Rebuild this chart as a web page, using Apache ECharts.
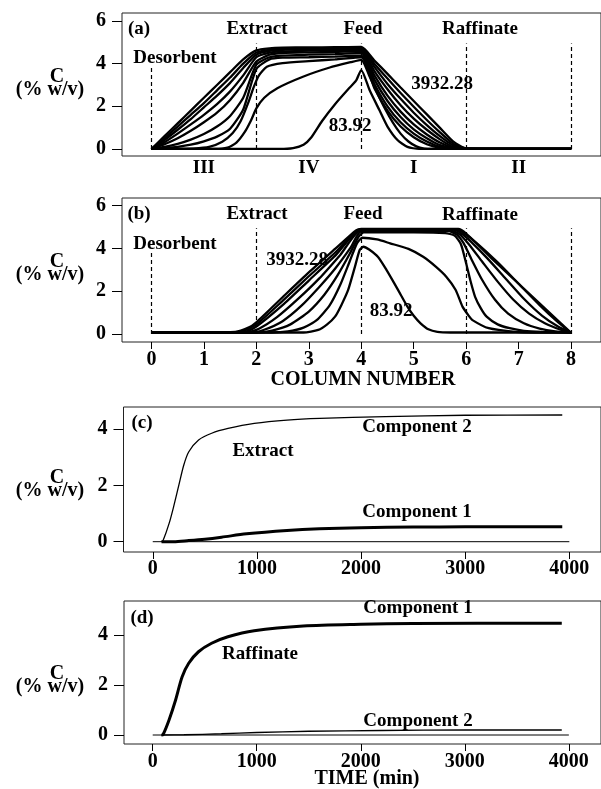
<!DOCTYPE html>
<html>
<head>
<meta charset="utf-8">
<script src="https://cdn.jsdelivr.net/npm/echarts@6/dist/echarts.min.js"></script>
<style>
  html, body { margin: 0; padding: 0; background: #fff; }
  #chart { width: 601px; height: 789px; }
</style>
</head>
<body>
<div id="chart"></div>
<script>
// ---- tick values ----
const columnTicks = [0, 1, 2, 3, 4, 5, 6, 7, 8];
const zoneCols = [1, 3, 5, 7];
const zoneNames = ['III', 'IV', 'I', 'II'];
const concTicksAB = [0, 2, 4, 6];
const concTicksCD = [0, 2, 4];
const timeTicks = [0, 1000, 2000, 3000, 4000];

// ports (dashed dividers): column and top of dashed line
const portCols = [0, 2, 4, 6, 8];
const portTops = [3.8, 4.95, 4.95, 4.95, 4.95];

// ---- (a) column profiles, [column, C] ----
const profA_t84 = [[0,0],[2.45,0],[2.7,0.04],[2.9,0.2],[3.05,0.55],[3.25,1.3],[3.5,2.1],[3.75,2.8],[3.9,3.2],[4,3.7],
  [4.16,2.75],[4.35,1.8],[4.5,1.05],[4.69,0.42],[4.88,0.1],[5.1,0],[8,0]];
const profA_2 = [[0,0],[1.2,0],[1.45,0.06],[1.62,0.3],[1.78,0.8],[1.9,1.35],[2,1.9],[2.15,2.4],[2.4,2.85],[2.9,3.4],[3.4,3.82],[3.8,4.07],[4,4.18],
  [4.15,3.45],[4.3,2.65],[4.45,1.9],[4.6,1.25],[4.75,0.72],[4.9,0.35],[5.05,0.12],[5.2,0.02],[5.35,0],[8,0]];
const profA_3 = [[0,0],[0.5,0],[0.8,0.02],[1.1,0.1],[1.35,0.34],[1.55,0.75],[1.7,1.3],[1.85,2.2],[1.95,2.9],[2.05,3.45],[2.2,3.85],[2.5,4.02],[3,4.12],[3.5,4.2],[4,4.3],
  [4.25,2.85],[4.5,1.8],[4.75,1.05],[5,0.55],[5.25,0.22],[5.5,0.05],[5.7,0],[8,0]];
// later profiles share one column grid
const fanCols = [0,0.25,0.5,0.75,1,1.25,1.5,1.75,2,2.25,2.5,3,3.5,4,4.25,4.5,4.75,5,5.25,5.5,5.75,6,8];
const profA_4 = [0,0.04,0.1,0.2,0.36,0.58,0.95,1.85,3.75,4.2,4.28,4.3,4.33,4.38,3.05,2.0,1.25,0.72,0.35,0.1,0,0,0];
const profA_5 = [0,0.1,0.24,0.44,0.7,1.05,1.55,2.4,3.95,4.3,4.38,4.42,4.45,4.5,3.25,2.25,1.5,0.92,0.5,0.18,0.03,0,0];
const profA_6 = [0,0.22,0.5,0.85,1.25,1.7,2.3,3.1,4.1,4.42,4.5,4.53,4.55,4.58,3.45,2.5,1.75,1.15,0.68,0.3,0.06,0,0];
const profA_7 = [0,0.32,0.72,1.15,1.6,2.1,2.7,3.45,4.3,4.52,4.58,4.61,4.64,4.66,3.65,2.8,2.05,1.42,0.9,0.45,0.1,0,0];
const profA_8 = [0,0.42,0.9,1.4,1.95,2.5,3.1,3.8,4.42,4.6,4.65,4.68,4.7,4.72,3.85,3.05,2.35,1.7,1.12,0.6,0.17,0,0];
const profA_9 = [0,0.5,1.05,1.6,2.15,2.75,3.35,4.0,4.52,4.65,4.7,4.72,4.73,4.75,4.0,3.3,2.62,1.98,1.36,0.78,0.25,0.02,0];
const profA_t3932 = [0,0.6,1.2,1.8,2.4,3.0,3.6,4.2,4.62,4.72,4.75,4.76,4.77,4.78,4.15,3.52,2.88,2.25,1.62,0.99,0.36,0.03,0];

// ---- (b) column profiles, [column, C] ----
const profB_t84 = [[0,0.07],[2.9,0.07],[3.18,0.19],[3.35,0.45],[3.5,0.81],[3.62,1.35],[3.75,2.06],[3.88,3.15],[3.97,3.93],[4.04,4.08],
  [4.15,3.95],[4.32,3.6],[4.48,3.0],[4.63,2.37],[4.76,1.8],[4.88,1.28],[5.0,0.85],[5.13,0.5],[5.28,0.22],[5.45,0.1],[5.7,0.07],[8,0.07]];
const profB_2 = [[0,0.07],[2.3,0.07],[2.6,0.12],[2.9,0.3],[3.15,0.65],[3.4,1.35],[3.6,2.3],[3.78,3.4],[3.92,4.25],[4.02,4.5],[4.3,4.42],[4.55,4.24],
  [4.9,3.98],[5.18,3.61],[5.42,3.15],[5.62,2.68],[5.8,2.06],[5.93,1.28],[6.05,0.85],[6.12,0.65],[6.43,0.27],[6.94,0.1],[7.3,0.07],[8,0.07]];
const profB_3 = [[0,0.07],[2.0,0.07],[2.3,0.16],[2.65,0.45],[3.0,1.05],[3.3,1.85],[3.55,2.75],[3.78,3.75],[3.95,4.55],[4.05,4.75],[5.0,4.75],[5.6,4.72],
  [5.78,4.6],[5.9,4.2],[6.0,3.3],[6.08,2.5],[6.17,1.74],[6.28,1.2],[6.39,0.81],[6.6,0.45],[6.83,0.27],[7.1,0.15],[7.45,0.1],[8,0.07]];
const profB_4 = [[0,0.07],[1.9,0.07],[2.15,0.2],[2.5,0.6],[2.85,1.3],[3.2,2.2],[3.5,3.05],[3.8,4.05],[4,4.8],[5.65,4.82],[5.82,4.65],[5.95,4.25],
  [6.1,3.5],[6.3,2.55],[6.55,1.6],[6.8,0.95],[7.1,0.5],[7.4,0.25],[7.7,0.12],[8,0.07]];
const profB_5 = [[0,0.07],[1.8,0.07],[2.05,0.25],[2.4,0.8],[2.8,1.65],[3.2,2.6],[3.6,3.7],[4,4.85],[5.7,4.85],[5.88,4.65],[6.05,4.2],
  [6.3,3.4],[6.6,2.45],[6.9,1.6],[7.2,0.95],[7.5,0.5],[7.8,0.2],[8,0.07]];
const profB_6 = [[0,0.07],[1.75,0.07],[2.0,0.35],[2.5,1.35],[3.0,2.5],[3.5,3.65],[4,4.87],[5.75,4.88],[5.92,4.68],[6.1,4.3],
  [6.4,3.55],[6.75,2.6],[7.1,1.65],[7.45,0.85],[7.75,0.35],[8,0.06]];
const profB_7 = [[0,0.07],[1.7,0.1],[2.0,0.45],[2.5,1.55],[3.0,2.7],[3.5,3.8],[4,4.9],[5.8,4.9],[5.95,4.72],[6.2,4.25],
  [6.6,3.35],[7.0,2.35],[7.4,1.35],[7.75,0.55],[8,0.05]];
const profB_t3932 = [[0,0.07],[1.6,0.1],[1.85,0.3],[2.0,0.55],[2.5,1.72],[3.0,2.88],[3.5,3.98],[3.9,4.85],[4,4.92],[5.85,4.92],[6.0,4.7],
  [6.5,3.5],[7.0,2.35],[7.5,1.2],[8,0.05]];

// ---- (c) extract and (d) raffinate vs time, [min, C] ----
const extractComp2 = [[84,0],[100,0.05],[157,0.65],[204,1.3],[251,2.02],[298,2.73],[346,3.2],[440,3.62],[566,3.86],[723,4.03],
  [975,4.21],[1289,4.33],[1604,4.39],[2233,4.45],[3000,4.5],[3932,4.51]];
const extractComp1 = [[84,0],[200,0],[346,0.04],[500,0.09],[660,0.16],[900,0.28],[1289,0.4],[1600,0.46],[2000,0.5],[2500,0.52],[3000,0.53],[3932,0.53]];
const raffComp1 = [[84,0],[100,0.02],[157,0.6],[220,1.4],[283,2.33],[346,2.87],[440,3.33],[566,3.67],[723,3.93],[975,4.17],
  [1447,4.36],[2000,4.43],[2500,4.46],[3932,4.47]];
const raffComp2 = [[84,0],[300,0.01],[660,0.05],[1000,0.1],[1500,0.15],[2200,0.18],[3000,0.2],[3932,0.2]];
const zeroLine = [[0,0],[4000,0]];

const FONT = '"Liberation Serif", "Times New Roman", serif';
const chart = echarts.init(document.getElementById('chart'));

const fan = vals => fanCols.map((c, i) => [c, vals[i]]);
const zoneMap = {};
zoneCols.forEach((c, i) => { zoneMap[c] = zoneNames[i]; });

function line(data, g, width, smooth) {
  return {
    type: 'line', xAxisIndex: g, yAxisIndex: g, data: data,
    symbol: 'none', smooth: smooth === undefined ? 0.2 : smooth, silent: true,
    lineStyle: { color: '#000', width: width }
  };
}

function ports() {
  return {
    silent: true, symbol: ['none', 'none'], label: { show: false },
    lineStyle: { type: [4, 3], color: '#000', width: 1.2 },
    data: portCols.map((c, i) => [{ coord: [c, 0] }, { coord: [c, portTops[i]] }])
  };
}

function yAxis(g, min, max, ticks) {
  return {
    type: 'value', gridIndex: g, min: min, max: max, position: 'left',
    axisLine: { show: false, onZero: false }, splitLine: { show: false },
    axisTick: { show: true, length: 10, customValues: ticks, lineStyle: { color: '#000' } },
    axisLabel: { customValues: ticks, margin: 16, color: '#000', fontFamily: FONT, fontWeight: 'bold', fontSize: 20 }
  };
}

function xAxis(g, min, max, ticks, opts) {
  opts = opts || {};
  return {
    type: 'value', gridIndex: g, min: min, max: max, position: 'bottom',
    axisLine: { show: false, onZero: false }, splitLine: { show: false },
    axisTick: { show: opts.tick !== false, length: 7, customValues: ticks, lineStyle: { color: '#000' } },
    axisLabel: {
      customValues: ticks, margin: opts.margin || 8, color: '#000', fontFamily: FONT, fontWeight: 'bold',
      fontSize: opts.size || 20, formatter: opts.formatter || (v => String(v))
    }
  };
}

function txt(s, x, y, size) {
  return {
    type: 'text', x: x, y: y, z: 100,
    style: { text: s, fill: '#000', font: 'bold ' + (size || 19) + 'px ' + FONT, align: 'center', verticalAlign: 'middle' }
  };
}

const gridStyle = { show: true, borderColor: '#222', borderWidth: 1, backgroundColor: 'transparent' };

const seriesA = [profA_t84, profA_2, profA_3].concat(
  [profA_4, profA_5, profA_6, profA_7, profA_8, profA_9, profA_t3932].map(fan)
).map(d => line(d, 0, 2.3));
seriesA[0].markLine = ports();

const seriesB = [profB_t84, profB_2, profB_3, profB_4, profB_5, profB_6, profB_7, profB_t3932].map(d => line(d, 1, 2.3));
seriesB[0].markLine = ports();

const option = {
  animation: false,
  backgroundColor: '#fff',
  grid: [
    Object.assign({ left: 122, top: 13, width: 483, height: 143 }, gridStyle),
    Object.assign({ left: 122, top: 198, width: 483, height: 144 }, gridStyle),
    Object.assign({ left: 123.5, top: 407, width: 486, height: 145 }, gridStyle),
    Object.assign({ left: 124, top: 601, width: 486, height: 143 }, gridStyle)
  ],
  xAxis: [
    xAxis(0, -0.561, 8.57, zoneCols, { tick: false, margin: 3, size: 19, formatter: v => zoneMap[v] || '' }),
    xAxis(1, -0.561, 8.57, columnTicks),
    xAxis(2, -281, 4304, timeTicks, { margin: 7 }),
    xAxis(3, -276, 4309, timeTicks)
  ],
  yAxis: [
    yAxis(0, -0.33, 6.375, concTicksAB),
    yAxis(1, -0.374, 6.36, concTicksAB),
    yAxis(2, -0.367, 4.794, concTicksCD),
    yAxis(3, -0.36, 5.36, concTicksCD)
  ],
  series: seriesA.concat(seriesB, [
    line(zeroLine, 2, 1, false),
    line(extractComp2, 2, 1.3, 0.3),
    line(extractComp1, 2, 3, 0.3),
    line(zeroLine, 3, 1, false),
    line(raffComp2, 3, 1.3, 0.3),
    line(raffComp1, 3, 3, 0.3)
  ]),
  graphic: [
    // y-axis titles
    txt('C', 57, 77, 20), txt('(% w/v)', 50, 90, 20),
    txt('C', 57, 262, 20), txt('(% w/v)', 50, 275, 20),
    txt('C', 57, 478, 20), txt('(% w/v)', 50, 491, 20),
    txt('C', 57, 674, 20), txt('(% w/v)', 50, 687, 20),
    // (a)
    txt('(a)', 139, 29), txt('Extract', 257, 29), txt('Feed', 363, 29), txt('Raffinate', 480, 29),
    txt('Desorbent', 175, 58), txt('3932.28', 442, 84), txt('83.92', 350, 126),
    // (b)
    txt('(b)', 139, 214), txt('Extract', 257, 214), txt('Feed', 363, 214), txt('Raffinate', 480, 215),
    txt('Desorbent', 175, 244), txt('3932.28', 297, 260), txt('83.92', 391, 311),
    txt('COLUMN NUMBER', 363, 380, 20),
    // (c)
    txt('(c)', 142, 423), txt('Extract', 263, 451), txt('Component 2', 417, 427), txt('Component 1', 417, 512),
    // (d)
    txt('(d)', 142, 618), txt('Raffinate', 260, 654), txt('Component 1', 418, 608), txt('Component 2', 418, 721),
    txt('TIME (min)', 367, 779, 20)
  ]
};

chart.setOption(option);
</script>
</body>
</html>
